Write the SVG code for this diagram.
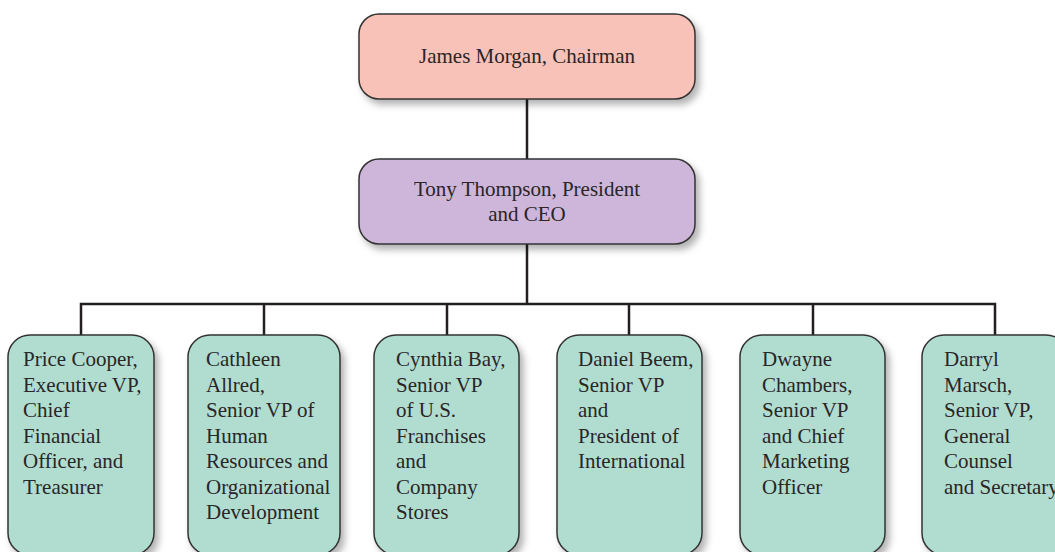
<svg xmlns="http://www.w3.org/2000/svg" width="1055" height="552" viewBox="0 0 1055 552">
<defs>
<filter id="sh" x="-20%" y="-20%" width="150%" height="150%">
<feDropShadow dx="4" dy="5" stdDeviation="3.5" flood-color="#000" flood-opacity="0.3"/>
</filter>
</defs>
<style>
.box{stroke:#333;stroke-width:1.5;filter:url(#sh)}
.pink{fill:#F9C2B8}
.purple{fill:#CDB6DA}
.green{fill:#B1DDD1}
text{font-family:"Liberation Serif","Times New Roman",serif;font-size:21px;fill:#2a2526}
.c{text-anchor:middle}
.conn{stroke:#231f20;stroke-width:2.5;fill:none}
</style>
<rect width="1055" height="552" fill="#fff"/>
<g id="connectors">
<line class="conn" x1="527" y1="99" x2="527" y2="159"/>
<line class="conn" x1="527" y1="244" x2="527" y2="304"/>
<polyline class="conn" points="81,335 81,304 995,304 995,335"/>
<line class="conn" x1="264" y1="304" x2="264" y2="335"/>
<line class="conn" x1="447" y1="304" x2="447" y2="335"/>
<line class="conn" x1="629" y1="304" x2="629" y2="335"/>
<line class="conn" x1="813" y1="304" x2="813" y2="335"/>
</g>
<g id="chairman">
<rect class="box pink" x="359" y="14" width="336" height="85" rx="20"/>
<text class="c" x="527" y="63">James Morgan, Chairman</text>
</g>
<g id="president">
<rect class="box purple" x="359" y="159" width="336" height="85" rx="20"/>
<text class="c" x="527" y="196">Tony Thompson, President</text>
<text class="c" x="527" y="221">and CEO</text>
</g>
<g id="cooper">
<rect class="box green" x="8" y="335" width="146" height="220" rx="22"/>
<text x="23" y="366">Price Cooper,</text>
<text x="23" y="391.5">Executive VP,</text>
<text x="23" y="417">Chief</text>
<text x="23" y="442.5">Financial</text>
<text x="23" y="468">Officer, and</text>
<text x="23" y="493.5">Treasurer</text>
</g>
<g id="allred">
<rect class="box green" x="188" y="335" width="152" height="220" rx="22"/>
<text x="206" y="366">Cathleen</text>
<text x="206" y="391.5">Allred,</text>
<text x="206" y="417">Senior VP of</text>
<text x="206" y="442.5">Human</text>
<text x="206" y="468">Resources and</text>
<text x="206" y="493.5">Organizational</text>
<text x="206" y="519">Development</text>
</g>
<g id="bay">
<rect class="box green" x="374" y="335" width="145" height="220" rx="22"/>
<text x="396" y="366">Cynthia Bay,</text>
<text x="396" y="391.5">Senior VP</text>
<text x="396" y="417">of U.S.</text>
<text x="396" y="442.5">Franchises</text>
<text x="396" y="468">and</text>
<text x="396" y="493.5">Company</text>
<text x="396" y="519">Stores</text>
</g>
<g id="beem">
<rect class="box green" x="557" y="335" width="145" height="220" rx="22"/>
<text x="578" y="366">Daniel Beem,</text>
<text x="578" y="391.5">Senior VP</text>
<text x="578" y="417">and</text>
<text x="578" y="442.5">President of</text>
<text x="578" y="468">International</text>
</g>
<g id="chambers">
<rect class="box green" x="740" y="335" width="145" height="220" rx="22"/>
<text x="762" y="366">Dwayne</text>
<text x="762" y="391.5">Chambers,</text>
<text x="762" y="417">Senior VP</text>
<text x="762" y="442.5">and Chief</text>
<text x="762" y="468">Marketing</text>
<text x="762" y="493.5">Officer</text>
</g>
<g id="marsch">
<rect class="box green" x="922" y="335" width="146" height="220" rx="22"/>
<text x="944" y="366">Darryl</text>
<text x="944" y="391.5">Marsch,</text>
<text x="944" y="417">Senior VP,</text>
<text x="944" y="442.5">General</text>
<text x="944" y="468">Counsel</text>
<text x="944" y="493.5">and Secretary</text>
</g>
</svg>
